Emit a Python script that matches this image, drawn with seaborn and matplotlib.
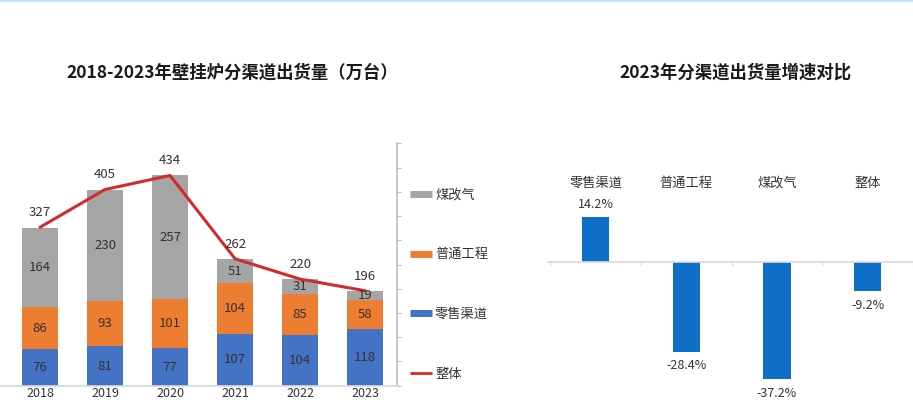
import numpy as np
import pandas as pd
import matplotlib
matplotlib.use("Agg")
import matplotlib.pyplot as plt
from matplotlib.lines import Line2D
import seaborn as sns

# ========== DATA ==========
years = ["2018", "2019", "2020", "2021", "2022", "2023"]
retail = [76, 81, 77, 107, 104, 118]          # 零售渠道
engineering = [86, 93, 101, 104, 85, 58]      # 普通工程
coal_to_gas = [164, 230, 257, 51, 31, 19]     # 煤改气
overall = [327, 405, 434, 262, 220, 196]      # 整体

growth_channels = ["零售渠道", "普通工程", "煤改气", "整体"]
growth_2023 = [14.2, -28.4, -37.2, -9.2]

# ========== STYLE ==========
sns.set_theme(style="white")
plt.rcParams["font.family"] = ["Noto Sans CJK SC", "DejaVu Sans"]
plt.rcParams["axes.unicode_minus"] = False

C_BLUE = "#4472C4"
C_ORANGE = "#ED7D31"
C_GRAY = "#A5A5A5"
C_RED = "#D22B2B"
C_BAR2 = "#0F6FC6"
TXT = "#333333"

fig = plt.figure(figsize=(9.13, 4.05), dpi=100)

# ========== LEFT: stacked bars + total line ==========
ax1 = fig.add_axes([0.0, 0.0477, 0.4348, 0.598])

df = pd.DataFrame({"year": years, "retail": retail,
                   "eng": engineering, "coal": coal_to_gas})
df["cum_eng"] = df["retail"] + df["eng"]
df["cum_coal"] = df["cum_eng"] + df["coal"]

# seaborn-style stacking: draw tallest cumulative first
bar_kw = dict(width=0.55, saturation=1, linewidth=0, edgecolor="none", ax=ax1)
sns.barplot(data=df, x="year", y="cum_coal", color=C_GRAY, **bar_kw)
sns.barplot(data=df, x="year", y="cum_eng", color=C_ORANGE, **bar_kw)
sns.barplot(data=df, x="year", y="retail", color=C_BLUE, **bar_kw)

xs = np.arange(len(years))
sns.lineplot(x=xs, y=overall, color=C_RED, lw=2.2, sort=False,
             estimator=None, ax=ax1)

for i in range(len(years)):
    b = 0
    for v in (retail[i], engineering[i], coal_to_gas[i]):
        ax1.text(i, b + v / 2, str(v), ha="center", va="center",
                 fontsize=9.5, color=TXT)
        b += v
    ax1.text(i, overall[i] + 30, str(overall[i]), ha="center", va="center",
             fontsize=9.5, color=TXT)

ax1.set_xlim(-0.615, 5.49)
ax1.set_ylim(0, 500)
ax1.set_yticks(np.arange(0, 501, 50))
ax1.yaxis.tick_right()
ax1.tick_params(axis="y", right=True, length=3, width=0.8, color="#bfbfbf",
                labelright=False)
ax1.tick_params(axis="x", length=0, pad=1, labelsize=9, labelcolor=TXT)
ax1.set_xlabel("")
ax1.set_ylabel("")
for s in ("left", "top"):
    ax1.spines[s].set_visible(False)
ax1.spines["right"].set_color("#bfbfbf")
ax1.spines["bottom"].set_color("#d9d9d9")
if ax1.get_legend():
    ax1.get_legend().remove()

handles = [
    Line2D([], [], color=C_GRAY, lw=5, solid_capstyle="butt"),
    Line2D([], [], color=C_ORANGE, lw=5, solid_capstyle="butt"),
    Line2D([], [], color=C_BLUE, lw=5, solid_capstyle="butt"),
    Line2D([], [], color=C_RED, lw=2, solid_capstyle="butt"),
]
fig.legend(handles, ["煤改气", "普通工程", "零售渠道", "整体"],
           loc="upper left", bbox_to_anchor=(0.449, 0.535), frameon=False,
           fontsize=9.5, labelcolor=TXT, labelspacing=3.55, handlelength=1.7,
           handletextpad=0.2, borderpad=0, borderaxespad=0)

fig.text(0.254, 0.82, "2018-2023年壁挂炉分渠道出货量（万台）", ha="center",
         va="center", fontsize=12.5, fontweight="bold", color="#1a1a1a")

# ========== RIGHT: growth rate bars ==========
ax2 = fig.add_axes([0.600, 0.0123, 0.400, 0.617])
gdf = pd.DataFrame({"channel": growth_channels, "growth": growth_2023})
sns.barplot(data=gdf, x="channel", y="growth", color=C_BAR2, width=0.3,
            saturation=1, linewidth=0, edgecolor="none", ax=ax2)

ax2.set_xlim(-0.527, 3.40)
ax2.set_ylim(-43.8, 35.6)
ax2.set_xticks([-0.5, 0.5, 1.5, 2.5, 3.5])
ax2.set_xticklabels([])
ax2.tick_params(axis="x", bottom=True, length=3, width=0.8, color="#d9d9d9")
ax2.set_yticks([])
ax2.set_xlabel("")
ax2.set_ylabel("")
for s in ("left", "top", "right"):
    ax2.spines[s].set_visible(False)
ax2.spines["bottom"].set_position(("data", 0))
ax2.spines["bottom"].set_color("#d9d9d9")

for i, (c, v) in enumerate(zip(growth_channels, growth_2023)):
    ax2.text(i, 25.1, c, ha="center", va="center", fontsize=9.5, color=TXT)
    off = 4.2 if v > 0 else -4.5
    ax2.text(i, v + off, f"{v:.1f}%", ha="center", va="center",
             fontsize=9, color=TXT)

fig.text(0.805, 0.82, "2023年分渠道出货量增速对比", ha="center", va="center",
         fontsize=12.5, fontweight="bold", color="#1a1a1a")

# thin light rule along the top edge
fig.add_artist(Line2D([0, 1], [0.997, 0.997], transform=fig.transFigure,
                      color="#bfe6f2", lw=1.5))

fig.savefig("out.png", dpi=100)
